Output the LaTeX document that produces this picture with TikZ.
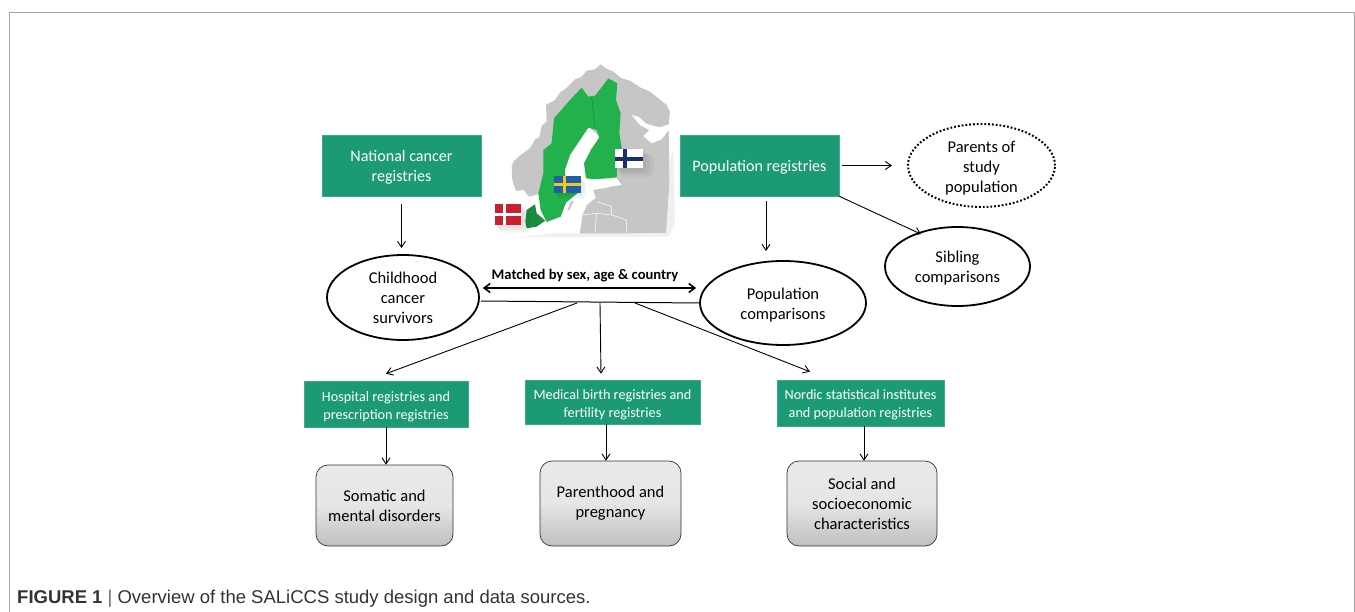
\documentclass[tikz,border=0pt]{standalone}
\usepackage{fontspec}
\setmainfont{Carlito}
\newfontfamily\capfont{Liberation Sans}
\usetikzlibrary{arrows.meta,shapes.geometric}
\definecolor{regreen}{HTML}{1C9A76}
\definecolor{mapgreen}{HTML}{22B14C}
\definecolor{mapgrey}{HTML}{C6C6C6}
\definecolor{dkred}{HTML}{C8202F}
\definecolor{seblue}{HTML}{1F5FA8}
\definecolor{seyellow}{HTML}{F2C81E}
\definecolor{fiblue}{HTML}{1A2F70}
\newcommand{\dnline}[1]{\mbox{}\\[#1]}
\tikzset{
  regbox/.style={draw=regreen!85!white,fill=regreen,text=white,align=center,inner sep=0pt,line width=.6pt,font=\fontsize{14.2}{18}\selectfont},
  bigreg/.style={regbox,font=\fontsize{16.1}{20}\selectfont},
  oval/.style={ellipse,draw=black,line width=1.8pt,fill=white,align=center,inner sep=0pt,font=\fontsize{16.5}{20}\selectfont},
  outcome/.style={draw=black!80,rounded corners=12pt,top color=gray!17,bottom color=gray!50,middle color=gray!20,align=center,inner sep=0pt,line width=.7pt,font=\fontsize{16.5}{20}\selectfont},
  conn/.style={draw=black,line width=.9pt,-{Straight Barb[length=6pt,width=8pt]}},
  flagshadow/.style={fill=black,opacity=.045,draw=none,rounded corners=3pt},
}
\begin{document}
\begin{tikzpicture}[x=1pt,y=-1pt]
\useasboundingbox (0,0) rectangle (1355,612);
\fill[white] (0,0) rectangle (1355,612);
\draw[black!35,line width=1pt] (9.5,612) -- (9.5,12.5) -- (1354,12.5) -- (1354,612);
% map
\begin{scope}[shift={(480,50)},x=.3333pt,y=-.3333pt]
\fill[black!6] (110,562) -- (565,560) -- (585,520) -- (580,300) -- (540,430) -- (130,500) -- cycle;
\fill[mapgrey] (95,350) -- (100,335) -- (122,315) -- (150,295) -- (165,268) -- (178,262) -- (185,228) -- (200,215) -- (198,165) -- (225,150) -- (240,128) -- (262,112) -- (285,88) -- (305,80) -- (320,62) -- (345,58) -- (362,43) -- (378,55) -- (400,65) -- (425,85) -- (450,92) -- (480,112) -- (510,125) -- (560,165) -- (570,185) -- (566,225) -- (568,400) -- (558,548) -- (450,550) -- (300,550) -- (230,470) -- (175,432) -- (150,440) -- (110,430) -- (97,390) -- cycle;
% White Sea
\fill[white] (455,195) -- (475,200) -- (500,222) -- (540,232) -- (570,222) -- (570,235) -- (545,268) -- (515,280) -- (490,258) -- (508,240) -- (480,225) -- cycle;
% Baltic and Gulf of Bothnia
\fill[white] (175,470) -- (200,530) -- (215,550) -- (300,550) -- (310,490) -- (320,465) -- (345,445) -- (390,410) -- (425,405) -- (410,385) -- (340,385) -- (330,300) -- (360,262) -- (325,230) -- (280,290) -- (250,370) -- (210,420) -- cycle;
\fill[mapgrey] (300,550) -- (308,490) -- (350,455) -- (340,420) -- (400,410) -- (430,405) -- (520,400) -- (558,548) -- cycle;
\draw[white,line width=.5pt] (305,495) -- (350,490) -- (395,495) -- (440,510) -- (440,548) (350,455) -- (395,470) -- (395,495) (345,548) -- (350,490);
\fill[white] (0,440) -- (130,420) -- (170,470) -- (215,550) -- (130,560) -- (0,560) -- cycle;
\fill[mapgrey] (272,455) -- (282,452) -- (268,480) -- (262,482) -- cycle;
% Sweden and Finland
\fill[mapgreen] (190,300) -- (215,280) -- (222,205) -- (270,150) -- (305,113) -- (325,140) -- (345,137) -- (368,108) -- (385,85) -- (412,100) -- (408,150) -- (422,190) -- (418,250) -- (426,300) -- (412,350) -- (410,382) -- (345,388) -- (318,385) -- (312,340) -- (330,305) -- (358,262) -- (350,240) -- (325,233) -- (300,270) -- (270,315) -- (255,360) -- (258,400) -- (298,425) -- (258,458) -- (242,500) -- (200,516) -- (182,480) -- (175,430) -- (190,370) -- cycle;
\draw[black!35!mapgreen,line width=.3pt] (335,140) -- (345,232);
% Denmark
\fill[black!20!mapgreen] (136,515) -- (140,480) -- (165,463) -- (170,490) -- (196,512) -- (170,530) -- (140,535) -- cycle;
% Flags
\fill[flagshadow] (420,315) rectangle (520,380);
\fill[flagshadow] (415,310) rectangle (508,372);
\fill[flagshadow] (410,305) rectangle (498,364);
\fill[flagshadow] (55,478) rectangle (148,548);
\fill[flagshadow] (52,474) rectangle (140,540);
\fill[flagshadow] (48,470) rectangle (132,532);
\fill[flagshadow] (230,392) rectangle (318,445);
\fill[flagshadow] (226,386) rectangle (310,437);
\fill[white] (405,298) rectangle (489,355);
\fill[fiblue] (405,320) rectangle (489,334);
\fill[fiblue] (428,298) rectangle (442,355);
\fill[dkred] (45,463) rectangle (124,524);
\fill[white] (45,488) rectangle (124,497);
\fill[white] (69,463) rectangle (77,524);
\fill[seblue] (222,378) rectangle (304,430);
\fill[seyellow] (222,398) rectangle (304,408);
\fill[seyellow] (248,378) rectangle (259,430);
\end{scope}
% nodes
\node[bigreg,minimum width=159pt,minimum height=61pt] (nat) at (401.5,165.5) {\dnline{-5pt}National cancer\\registries};
\node[bigreg,minimum width=159pt,minimum height=61pt] (popreg) at (759.5,165.5) {\dnline{-5pt}Population registries};
\node[oval,minimum width=152pt,minimum height=85pt] (child) at (403,297.5) {Childhood\\cancer\\survivors};
\node[oval,minimum width=166pt,minimum height=84pt] (popcomp) at (783,303) {\dnline{-5pt}Population\\comparisons};
\node[oval,minimum width=147pt,minimum height=80pt,dotted,line width=2pt] (parents) at (981.5,165.5) {\dnline{-4pt}Parents of\\study\\population};
\node[oval,minimum width=145pt,minimum height=79pt] (sib) at (957.5,266.5) {\dnline{-5pt}Sibling\\comparisons};
\node[regbox,minimum width=164pt,minimum height=46pt] (hosp) at (386,404) {\dnline{-2pt}Hospital registries and\\prescription registries};
\node[regbox,minimum width=175pt,minimum height=44pt] (med) at (612.5,402) {\dnline{-2pt}Medical birth registries and\\fertility registries};
\node[regbox,minimum width=167pt,minimum height=46pt] (nord) at (860.5,403) {\dnline{-4pt}Nordic statistical institutes\\and population registries};
\node[outcome,minimum width=137pt,minimum height=81pt] (som) at (384.5,505.5) {Somatic and\\mental disorders};
\node[outcome,minimum width=141pt,minimum height=85pt] (par) at (610.5,503.5) {Parenthood and\\pregnancy};
\node[outcome,minimum width=150pt,minimum height=85pt] (soc) at (862,503.5) {Social and\\socioeconomic\\characteristics};
\node[font=\bfseries\fontsize{14.6}{16}\selectfont,anchor=center,inner sep=0pt] (match) at (585,275.5) {Matched by sex, age \& country};
\node[anchor=base west,inner sep=0pt,font=\capfont\fontsize{18.5}{20}\selectfont,text=black!80] (cap) at (17,603) {\textbf{FIGURE 1} \textcolor{black!60}{|} Overview of the SALiCCS study design and data sources.};
% bus
\coordinate (busl) at (481,301);
\coordinate (busr) at (popcomp.west);
\draw[black,line width=1pt] (busl) -- (busr);
\coordinate (b1) at (577,303);
\coordinate (b2) at (600,303);
\coordinate (b3) at (635,303);
% connectors
\draw[conn] ([yshift=-8pt]nat.south) -- ([yshift=6pt]child.north -| nat.south);
\draw[conn] ([xshift=6.5pt,yshift=-5pt]popreg.south) -- ([xshift=-17pt,yshift=9pt]popcomp.north);
\draw[conn,shorten <=3pt] (popreg.east) -- ([xshift=-15pt]parents.west);
\draw[conn] (popreg.south east) -- ([xshift=-36.5pt,yshift=-8pt]sib.north);
\draw[{Straight Barb[length=6pt,width=9pt]}-{Straight Barb[length=6pt,width=9pt]},line width=1.6pt] ([xshift=3pt,yshift=9.5pt]child.east) -- ([xshift=-3pt,yshift=15pt]popcomp.west);
\draw[conn] (b1) -- ([yshift=7pt]hosp.north);
\draw[conn] (b2) -- ([xshift=-11.5pt,yshift=6pt]med.north);
\draw[conn] (b3) -- ([xshift=-50.5pt,yshift=8pt]nord.north);
\draw[conn] (hosp.south) -- ([xshift=1.5pt]som.north);
\draw[conn] ([xshift=-6.5pt]med.south) -- ([xshift=-4.5pt]par.north);
\draw[conn] ([xshift=3.5pt]nord.south) -- ([xshift=2pt]soc.north);
\end{tikzpicture}
\end{document}
